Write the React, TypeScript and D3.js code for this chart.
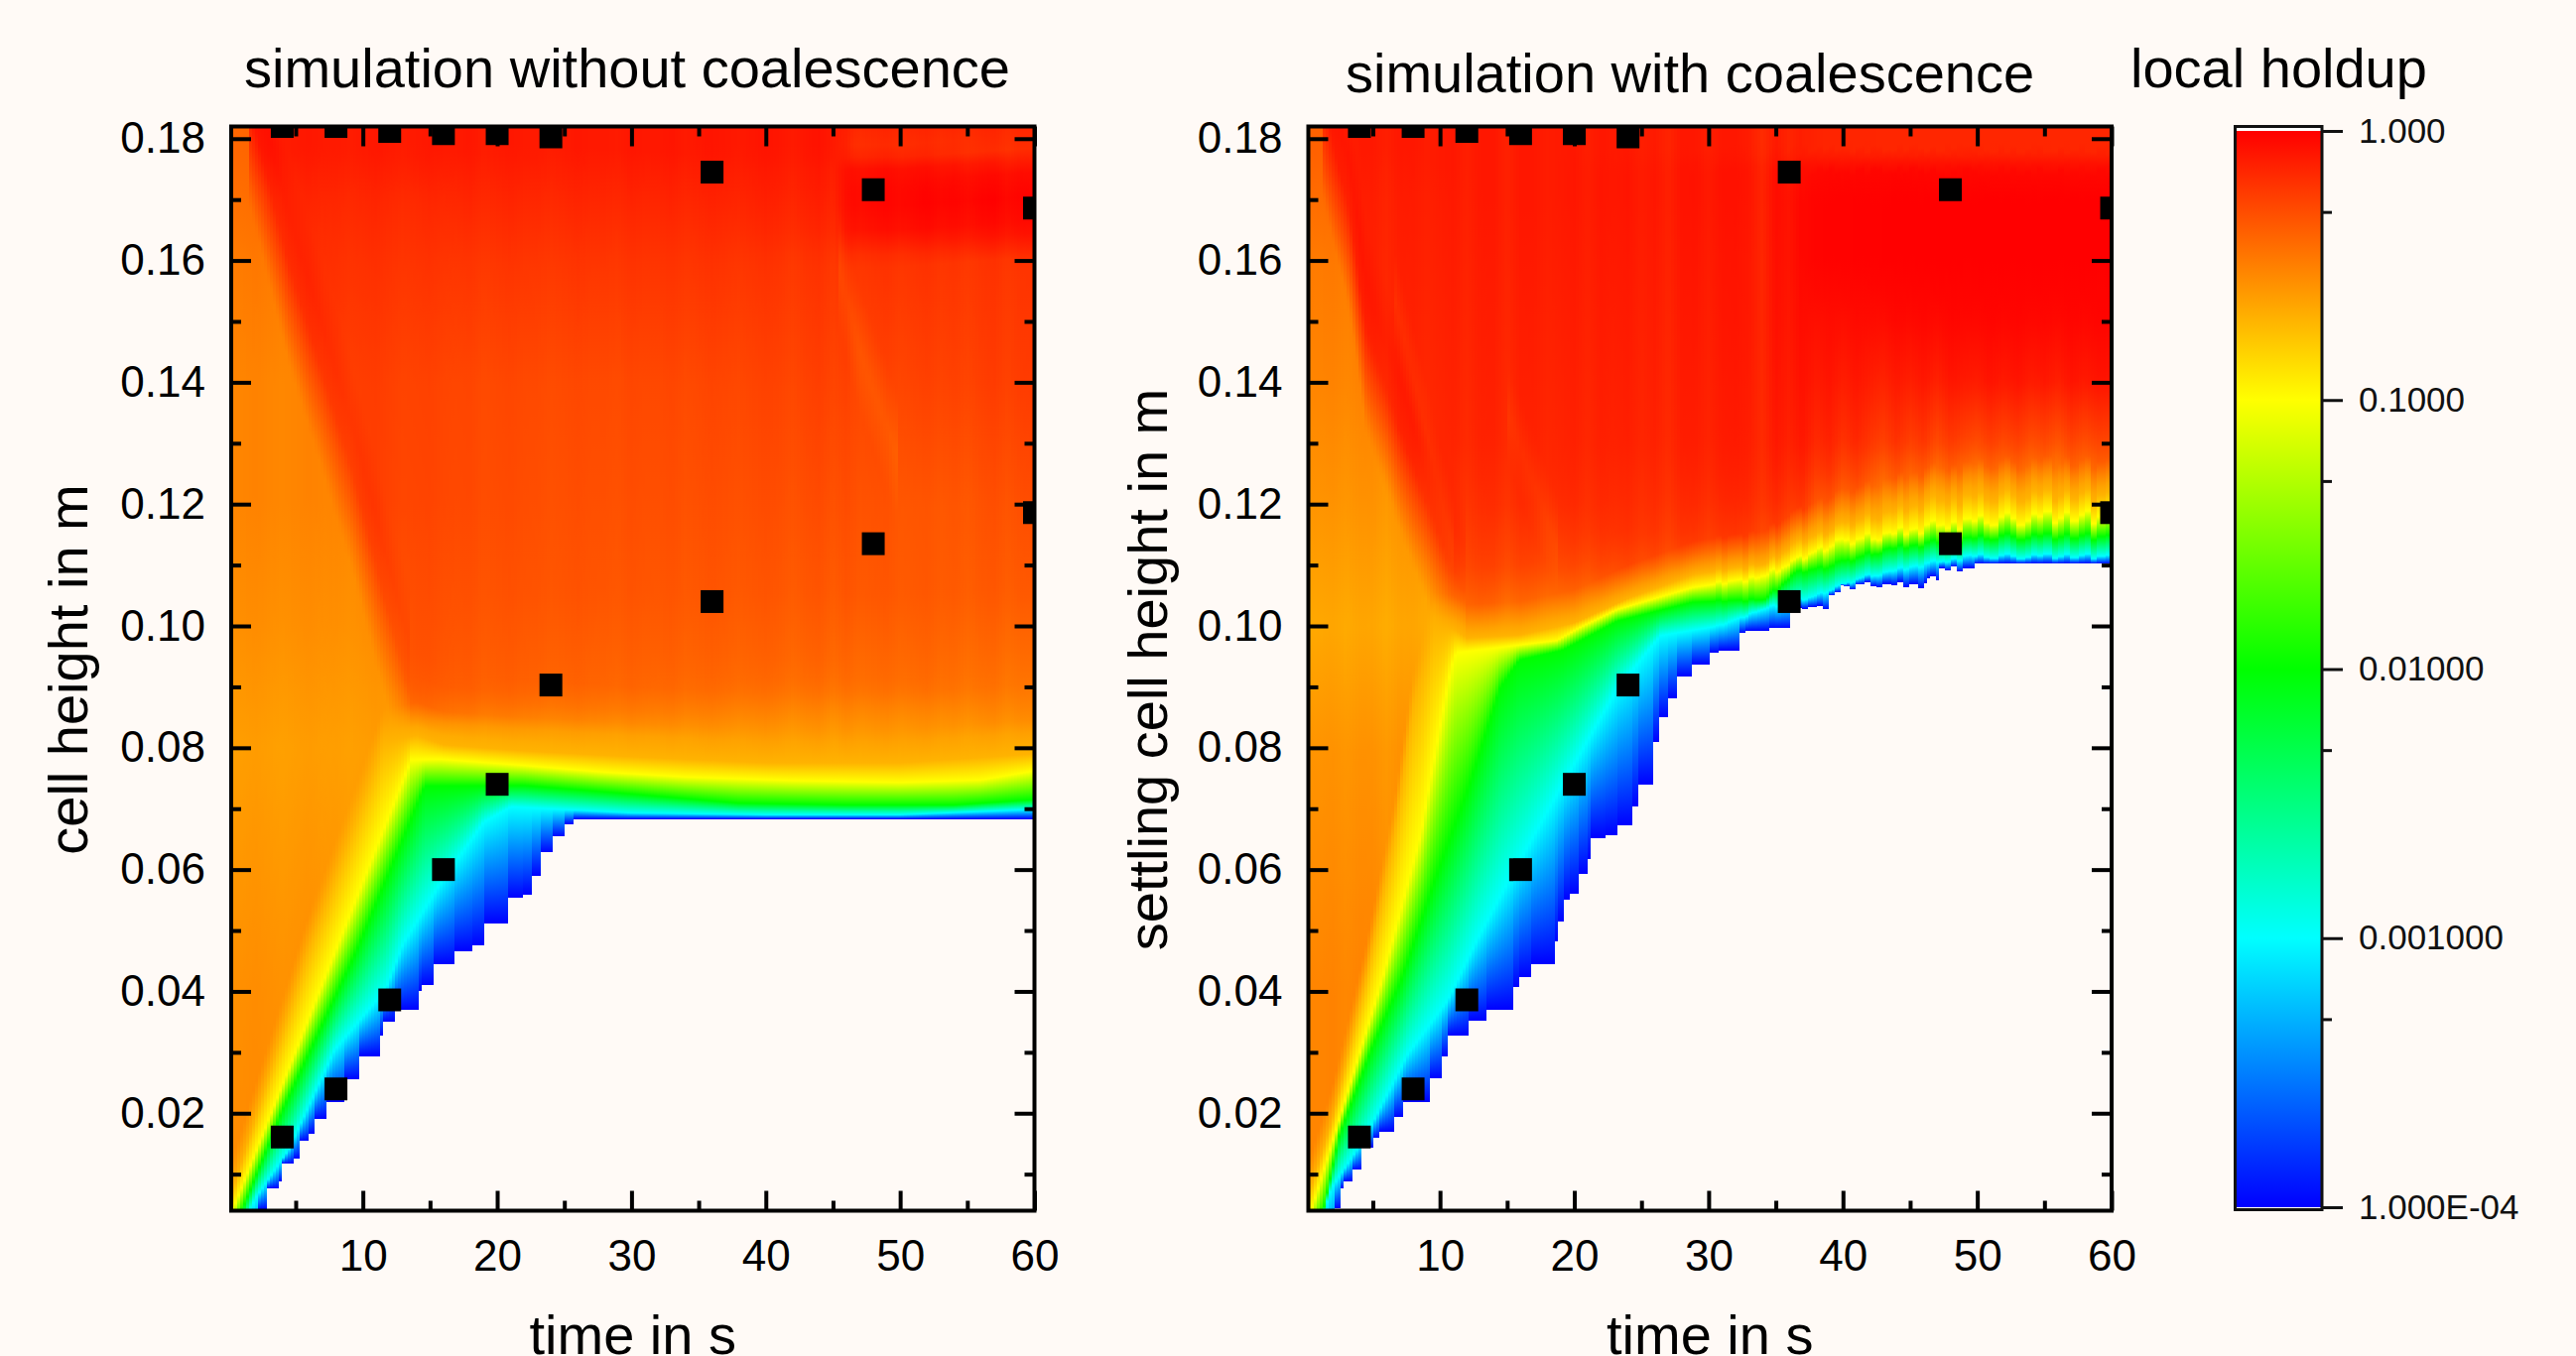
import React, { useEffect, useRef } from "react";
import * as d3 from "d3";

// colour bar
const holdupTicks = [1, 0.1, 0.01, 0.001, 0.0001];
const holdupTickLabels = ["1.000", "0.1000", "0.01000", "0.001000", "1.000E-04"];
const holdupMinor = [0.5, 0.05, 0.005, 0.0005];
const rainbowLevels = [-4, -3, -2, -1, 0];
const rainbowColors = ["#0000ff", "#00ffff", "#00ff00", "#ffff00", "#ff0000"];

// axes
const timeTicks = [10, 20, 30, 40, 50, 60];
const timeMinor = [5, 15, 25, 35, 45, 55];
const heightTicks = [0.02, 0.04, 0.06, 0.08, 0.1, 0.12, 0.14, 0.16, 0.18];
const heightMinor = [0.01, 0.03, 0.05, 0.07, 0.09, 0.11, 0.13, 0.15, 0.17];

// measured interface positions (black squares, same in both panels)
const expTimes = [4, 8, 12, 16, 20, 24, 36, 48, 60];
const expLower = [0.0161, 0.024, 0.0386, 0.06, 0.074, 0.0903, 0.104, 0.1135, 0.1186];
const expUpper = [0.182, 0.182, 0.1812, 0.1808, 0.1808, 0.1803, 0.1745, 0.1716, 0.1686];

// --- simulation without coalescence: lower edge of the coloured area (staircase)
const noCoalEdgeT = [2.3, 2.75, 3.85, 4.05, 4.78, 5.26, 5.87, 6.4, 7.2, 8.7, 9.7, 11.25, 11.54, 12.35, 14.17, 14.37, 15.18, 15.38, 16.88, 18.2, 19.1, 20.77, 21.94, 22.6, 23.16, 24.1, 25.1, 25.7];
const noCoalEdgeH = [-0.005, 0.0042, 0.0076, 0.0088, 0.0117, 0.0126, 0.0154, 0.0166, 0.0191, 0.0218, 0.0255, 0.0294, 0.0328, 0.035, 0.0369, 0.04, 0.041, 0.042, 0.0444, 0.0466, 0.0475, 0.0512, 0.0553, 0.0559, 0.059, 0.0628, 0.0654, 0.0675, 0.0683];
// heights where the holdup reaches 1e-3, 1e-2, 1e-1 and 0.2
const noCoalCyanT = [0.2, 1.6, 2, 4.5, 7.9, 11.7, 13, 15.8, 19, 21, 30, 40, 50, 60];
const noCoalCyanH = [-0.004, 0.004, 0.006, 0.0141, 0.0304, 0.0403, 0.0478, 0.0578, 0.0678, 0.0703, 0.0693, 0.069, 0.069, 0.0699];
const noCoalGreenT = [0.2, 1, 4, 9.5, 14.6, 22, 30, 38, 46, 54, 60];
const noCoalGreenH = [-0.0001, 0.004, 0.0204, 0.0465, 0.0737, 0.0738, 0.0724, 0.0709, 0.0706, 0.0706, 0.0715];
const noCoalYellowT = [0.2, 0.3, 13.6, 15.8, 21.9, 27.9, 34, 42, 50, 56, 60];
const noCoalYellowH = [0.0034, 0.004, 0.078, 0.0781, 0.0771, 0.076, 0.0752, 0.0746, 0.0743, 0.0747, 0.0762];
const noCoalAmberT = [0.2, 5.7, 11.5, 14, 16, 22, 30, 40, 50, 60];
const noCoalAmberH = [0.0065, 0.0453, 0.0809, 0.082, 0.0805, 0.0795, 0.0785, 0.0775, 0.0775, 0.079];
// orange region of initial holdup: its upper limit and its log10 holdup
const noCoalFeedT = [1.5, 4.45, 6.9, 9.3, 11.3, 13.6];
const noCoalFeedTop = [0.178, 0.1516, 0.134, 0.1166, 0.0991, 0.08];
const noCoalFeedH = [0.004, 0.04, 0.08, 0.1, 0.12, 0.14, 0.16, 0.178];
const noCoalFeedV = [-0.54, -0.56, -0.62, -0.56, -0.52, -0.52, -0.48, -0.4];
// dense packed layer, log10 holdup: one row per height, one value per time
const noCoalBodyT = [2, 6, 10, 14, 18, 25, 35, 45, 46.5, 52, 60];
const noCoalBodyH = [0.082, 0.086, 0.09, 0.095, 0.105, 0.12, 0.14, 0.16, 0.165, 0.17, 0.175, 0.178, 0.182];
const noCoalBody = [
  [-0.6, -0.6, -0.6, -0.6, -0.6, -0.6, -0.6, -0.6, -0.6, -0.6, -0.6],
  [-0.5, -0.5, -0.5, -0.42, -0.45, -0.47, -0.49, -0.52, -0.52, -0.52, -0.52],
  [-0.4, -0.4, -0.4, -0.35, -0.37, -0.39, -0.41, -0.43, -0.43, -0.43, -0.46],
  [-0.36, -0.36, -0.36, -0.32, -0.35, -0.37, -0.38, -0.39, -0.4, -0.4, -0.42],
  [-0.32, -0.32, -0.3, -0.3, -0.32, -0.33, -0.34, -0.34, -0.34, -0.35, -0.35],
  [-0.26, -0.26, -0.25, -0.27, -0.29, -0.31, -0.31, -0.3, -0.31, -0.34, -0.3],
  [-0.2, -0.22, -0.24, -0.26, -0.28, -0.29, -0.28, -0.25, -0.27, -0.26, -0.23],
  [-0.17, -0.18, -0.19, -0.2, -0.21, -0.21, -0.2, -0.2, -0.2, -0.2, -0.2],
  [-0.16, -0.17, -0.17, -0.18, -0.18, -0.18, -0.17, -0.15, -0.07, -0.05, -0.05],
  [-0.15, -0.15, -0.15, -0.16, -0.15, -0.15, -0.14, -0.12, -0.03, -0.01, -0.01],
  [-0.12, -0.12, -0.12, -0.12, -0.12, -0.12, -0.11, -0.1, -0.06, -0.05, -0.05],
  [-0.1, -0.1, -0.1, -0.1, -0.1, -0.1, -0.09, -0.08, -0.18, -0.18, -0.18],
  [-0.1, -0.1, -0.1, -0.1, -0.1, -0.1, -0.09, -0.08, -0.15, -0.15, -0.15],
];
// faint orange wave crossing the layer late in the run
const noCoalWaveT = [45.3, 47, 49.8];
const noCoalWaveH = [0.16, 0.145, 0.128];
// vertical streaks, change of log10 holdup, one value per second from 0 s
const noCoalStreak = [0, 0, 0.01, 0, -0.01, 0, 0.01, 0, 0, -0.01, 0, 0.01, 0, -0.01, 0, 0.01, 0, 0, 0.01, -0.01, 0, 0.01, 0, 0, -0.01, 0, 0.01, 0, 0, -0.01, 0.01, 0, 0, 0.01, -0.01, 0, 0.01, 0, -0.01, 0, 0.01, 0, -0.02, 0, 0.01, -0.02, 0.01, -0.01, 0, 0.01, -0.01, 0, 0.01, -0.01, 0, -0.02, 0, 0.01, -0.02, 0, 0];

// --- simulation with coalescence
const coalEdgeT = [2.2, 2.51, 2.91, 3.4, 4.05, 4.2, 4.94, 5.54, 6.56, 7.16, 9.19, 10.2, 10.6, 12.2, 13.44, 15.54, 15.87, 16.68, 18.58, 18.7, 19.2, 19.7, 20.3, 20.9, 21.3, 22.35, 23.24, 24.37, 24.8, 25.8, 26.4, 27, 27.7, 28.8, 30, 30.85, 32.26, 32.67, 34.5, 36.1, 38.95, 39.75, 41, 46.2, 47.2, 49.9, 51.5];
const coalEdgeH = [-0.005, 0.0044, 0.0076, 0.0088, 0.0107, 0.0123, 0.0143, 0.0159, 0.017, 0.0194, 0.0219, 0.0257, 0.0293, 0.0328, 0.0352, 0.037, 0.0407, 0.0423, 0.0445, 0.0482, 0.0514, 0.055, 0.0561, 0.0593, 0.0617, 0.0652, 0.0656, 0.0672, 0.0704, 0.0739, 0.081, 0.085, 0.0881, 0.0917, 0.0937, 0.0956, 0.096, 0.0988, 0.0992, 0.0996, 0.103, 0.1051, 0.1063, 0.1067, 0.1075, 0.1095, 0.1102, 0.1102];
const coalCyanT = [0.2, 1.4, 1.9, 4.5, 7.6, 10.6, 12.8, 15.1, 19.1, 23.2, 26.4, 30.8, 34.5, 37.7, 41.4, 45.4, 49.5, 60];
const coalCyanH = [-0.004, 0.004, 0.0076, 0.0163, 0.0297, 0.0386, 0.0486, 0.0581, 0.0739, 0.0897, 0.0984, 0.1, 0.1031, 0.1047, 0.1079, 0.1098, 0.1114, 0.1114];
const coalGreenT = [0.2, 1.3, 2.5, 4.9, 7.2, 9.6, 12.2, 14.45, 15.9, 19.1, 23.2, 28.8, 34.1, 36.5, 38.5, 43.4, 47.4, 51.5, 60];
const coalGreenH = [-0.002, 0.0038, 0.0163, 0.0305, 0.0423, 0.0581, 0.0739, 0.0897, 0.0944, 0.096, 0.1008, 0.1039, 0.1043, 0.1087, 0.1095, 0.1126, 0.1138, 0.1146, 0.1146];
const coalYellowT = [0.2, 0.4, 2.9, 5.75, 8.6, 9.2, 10.8, 11.2, 18.7, 20.3, 23.2, 28.8, 33.7, 36.5, 39.3, 43.4, 47.4, 51.5, 55.5, 60];
const coalYellowH = [0.0028, 0.0038, 0.0218, 0.0423, 0.066, 0.0739, 0.0929, 0.0956, 0.0976, 0.0996, 0.1027, 0.1063, 0.1079, 0.1107, 0.1134, 0.115, 0.1166, 0.1174, 0.1177, 0.1178];
const coalAmberT = [0.2, 2, 4.5, 6.6, 8, 9.5, 11, 12, 16, 20, 24, 29, 34, 36.5, 40, 47, 52, 60];
const coalAmberH = [0.0065, 0.019, 0.0423, 0.066, 0.087, 0.1, 0.0995, 0.098, 0.0985, 0.1005, 0.1045, 0.1085, 0.11, 0.1134, 0.1165, 0.1205, 0.1213, 0.1213];
const coalFeedT = [1.3, 3.3, 4.5, 7, 9.4, 10.8, 11.8];
const coalFeedTop = [0.1783, 0.1593, 0.1403, 0.124, 0.1095, 0.1016, 0.0976];
const coalFeedH = [0.004, 0.04, 0.08, 0.1, 0.12, 0.14, 0.16, 0.178];
const coalFeedV = [-0.52, -0.52, -0.58, -0.66, -0.58, -0.52, -0.48, -0.38];
const coalBodyT = [2, 6, 10, 14, 18, 24, 30, 34, 37, 38.5, 44, 50, 60];
const coalBodyH = [0.1, 0.105, 0.11, 0.115, 0.12, 0.125, 0.13, 0.14, 0.15, 0.16, 0.17, 0.175, 0.178, 0.182];
const coalBody = [
  [-0.4, -0.4, -0.42, -0.48, -0.52, -0.5, -0.5, -0.5, -0.5, -0.5, -0.5, -0.5, -0.5],
  [-0.3, -0.3, -0.32, -0.36, -0.4, -0.42, -0.45, -0.45, -0.5, -0.5, -0.5, -0.5, -0.5],
  [-0.28, -0.28, -0.25, -0.26, -0.28, -0.28, -0.32, -0.34, -0.45, -0.5, -0.55, -0.55, -0.55],
  [-0.22, -0.22, -0.22, -0.22, -0.22, -0.2, -0.22, -0.22, -0.35, -0.45, -0.55, -0.6, -0.6],
  [-0.2, -0.2, -0.2, -0.18, -0.17, -0.17, -0.17, -0.15, -0.22, -0.33, -0.48, -0.58, -0.58],
  [-0.2, -0.18, -0.17, -0.16, -0.15, -0.15, -0.14, -0.12, -0.15, -0.2, -0.33, -0.42, -0.42],
  [-0.18, -0.16, -0.15, -0.14, -0.14, -0.13, -0.12, -0.1, -0.1, -0.13, -0.2, -0.25, -0.28],
  [-0.16, -0.15, -0.14, -0.13, -0.13, -0.12, -0.11, -0.09, -0.07, -0.08, -0.1, -0.08, -0.08],
  [-0.15, -0.14, -0.13, -0.12, -0.12, -0.11, -0.1, -0.08, -0.05, -0.05, -0.03, -0.02, -0.02],
  [-0.14, -0.13, -0.12, -0.11, -0.11, -0.1, -0.09, -0.08, -0.03, -0.01, 0, 0, 0],
  [-0.13, -0.12, -0.11, -0.1, -0.1, -0.09, -0.08, -0.07, -0.03, -0.01, 0, 0, 0],
  [-0.12, -0.11, -0.1, -0.1, -0.1, -0.09, -0.08, -0.07, -0.05, -0.03, -0.02, -0.03, -0.03],
  [-0.12, -0.1, -0.1, -0.1, -0.1, -0.1, -0.1, -0.1, -0.12, -0.14, -0.15, -0.15, -0.15],
  [-0.12, -0.1, -0.1, -0.1, -0.1, -0.1, -0.1, -0.1, -0.12, -0.14, -0.15, -0.15, -0.15],
];
// curved orange streaks in the dense layer
const coalWave1T = [6.6, 11];
const coalWave1H = [0.1539, 0.1131];
const coalWave2T = [15, 18.7];
const coalWave2H = [0.135, 0.1131];
const coalStreak = [0, 0, 0.01, -0.01, 0.01, 0.01, -0.02, 0.01, 0.01, -0.01, 0, 0.01, -0.02, 0.01, 0.01, -0.03, 0.01, 0.01, -0.01, 0, 0.01, -0.02, 0.01, 0, 0.01, -0.02, 0, -0.04, 0.01, 0.01, -0.02, 0.01, 0.01, -0.01, -0.07, 0.01, -0.03, 0.01, -0.05, 0.01, -0.06, 0.01, -0.04, -0.08, 0.01, -0.05, 0.01, -0.08, 0.01, -0.03, -0.06, 0.01, -0.04, 0.01, -0.06, -0.02, -0.08, 0.01, -0.04, 0.01, 0];
// jagged interface after 30 s, shift of the height in m, half-second steps
const coalTuft = [0, 0.0002, -0.0001, 0.0001, 0.0001, -0.0002, 0.0002, 0, -0.0001, 0.0002, -0.0003, -0.0001, 0.0002, 0.0003, -0.0002, 0.0001, 0.0003, -0.0003, -0.0001, 0.0004, 0.0002, -0.0003, 0.0001, 0.0005, -0.0002, -0.0004, 0.0002, 0, 0.0005, -0.0003, 0.0001, -0.0005, 0.0003, 0.0006, 0, -0.0004, 0.0002, -0.0006, 0.0004, 0.0001, 0.0006, -0.0002, -0.0005, 0.0003, 0.0007, 0.0001, -0.0006, -0.0002, 0.0005, 0.0002, 0.0007, -0.0005, 0, 0.0006, -0.0003, 0.0003, 0.0007, -0.0006, 0.0001, 0.0004];

const BG = "#fffaf6";
const FONT = "'Liberation Sans', Arial, sans-serif";

const lerpScale = (ts: number[], hs: number[]) =>
  d3.scaleLinear().domain(ts).range(hs).clamp(true);

type Wave = { t: number[]; h: number[]; dv: number; w: number };

type PanelData = {
  id: string;
  left: number;
  edgeT: number[]; edgeH: number[];
  cyanT: number[]; cyanH: number[];
  greenT: number[]; greenH: number[];
  yellowT: number[]; yellowH: number[];
  amberT: number[]; amberH: number[];
  feedT: number[]; feedTop: number[];
  feedH: number[]; feedV: number[];
  bodyT: number[]; bodyH: number[]; body: number[][];
  streak: number[];
  tuft?: number[];
  waves: Wave[];
  title: string; titleX: number; titleY: number;
  yLabel: string; yLabelX: number; yLabelY: number;
};

const panels: PanelData[] = [
  {
    id: "nocoal", left: 233,
    edgeT: noCoalEdgeT, edgeH: noCoalEdgeH,
    cyanT: noCoalCyanT, cyanH: noCoalCyanH,
    greenT: noCoalGreenT, greenH: noCoalGreenH,
    yellowT: noCoalYellowT, yellowH: noCoalYellowH,
    amberT: noCoalAmberT, amberH: noCoalAmberH,
    feedT: noCoalFeedT, feedTop: noCoalFeedTop,
    feedH: noCoalFeedH, feedV: noCoalFeedV,
    bodyT: noCoalBodyT, bodyH: noCoalBodyH, body: noCoalBody,
    streak: noCoalStreak,
    waves: [{ t: noCoalWaveT, h: noCoalWaveH, dv: -0.07, w: 0.01 }],
    title: "simulation without coalescence", titleX: 632, titleY: 88,
    yLabel: "cell height in m", yLabelX: 88, yLabelY: 675,
  },
  {
    id: "coal", left: 1318.5,
    edgeT: coalEdgeT, edgeH: coalEdgeH,
    cyanT: coalCyanT, cyanH: coalCyanH,
    greenT: coalGreenT, greenH: coalGreenH,
    yellowT: coalYellowT, yellowH: coalYellowH,
    amberT: coalAmberT, amberH: coalAmberH,
    feedT: coalFeedT, feedTop: coalFeedTop,
    feedH: coalFeedH, feedV: coalFeedV,
    bodyT: coalBodyT, bodyH: coalBodyH, body: coalBody,
    streak: coalStreak,
    tuft: coalTuft,
    waves: [
      { t: coalWave1T, h: coalWave1H, dv: -0.05, w: 0.008 },
      { t: coalWave2T, h: coalWave2H, dv: -0.05, w: 0.008 },
    ],
    title: "simulation with coalescence", titleX: 1703, titleY: 93,
    yLabel: "settling cell height in m", yLabelX: 1176, yLabelY: 675,
  },
];

const rainbow = d3.scaleLinear<string>().domain(rainbowLevels).range(rainbowColors).clamp(true);

// one column of the map: gradient stops (height, log10 holdup) from bottom to top
function columnProfile(p: PanelData, t: number) {
  const edge = d3.scaleThreshold<number, number>().domain(p.edgeT).range(p.edgeH);
  const cyan = lerpScale(p.cyanT, p.cyanH);
  const green = lerpScale(p.greenT, p.greenH);
  const yellow = lerpScale(p.yellowT, p.yellowH);
  const amber = lerpScale(p.amberT, p.amberH);
  const feedTop = lerpScale(p.feedT, p.feedTop);
  const feed = lerpScale(p.feedH, p.feedV);
  const rows = p.body.map((r) => lerpScale(p.bodyT, r)(t));
  const body = lerpScale(p.bodyH, rows);
  const streakAt = lerpScale(d3.range(p.streak.length), p.streak)(t);
  const tuft = p.tuft && t > 30
    ? d3.scaleQuantize<number>().domain([30, 60]).range(p.tuft)(t)
    : 0;
  const hb = t < p.feedT[0] ? Infinity : t > p.feedT[p.feedT.length - 1] ? -Infinity : feedTop(t);
  const waves = p.waves
    .filter((w) => t >= w.t[0] && t <= w.t[w.t.length - 1])
    .map((w) => ({ at: lerpScale(w.t, w.h)(t), dv: w.dv, w: w.w }));
  const fade = d3.scaleLinear().domain([0.125, 0.155]).range([1, 0]).clamp(true);

  const e = edge(t) + (t > 37 && t < 49 ? tuft : 0);
  const stops: [number, number][] = [[e, -4]];
  const push = (h: number, v: number) => {
    if (h > stops[stops.length - 1][0]) stops.push([h, v]);
  };
  push(cyan(t) + tuft * 0.6, -3);
  push(green(t) + tuft * 0.8, -2);
  push(yellow(t) + tuft * 1.6, -1);
  const a = amber(t) + tuft * 1.6;
  push(a, -0.7);

  const value = (h: number) => {
    const d = 0.008;
    const mix = Math.max(0, Math.min(1, (h - hb + d) / (2 * d)));
    let b = body(h);
    if (isFinite(hb)) b += 0.04 * Math.max(0, 1 - Math.abs(h - hb - 0.016) / 0.01);
    waves.forEach((w) => {
      b += w.dv * Math.max(0, 1 - Math.abs(h - w.at) / w.w);
    });
    const base = Number.isFinite(hb) ? feed(h) * (1 - mix) + b * mix : hb === Infinity ? feed(h) : b;
    const s = t > 37 && p.id === "coal" ? streakAt * fade(h) : streakAt;
    return Math.min(0, base + s);
  };
  for (let h = a + 0.0015; h < 0.1825; h += 0.002) {
    const w = Math.min(1, (h - a) / 0.005);
    push(h, -0.7 * (1 - w) + value(h) * w);
  }
  push(0.182, value(0.182));
  return stops;
}

function drawPanel(svg: any, defs: any, p: PanelData) {
  const x = d3.scaleLinear().domain([0.2, 60]).range([p.left, p.left + 809.5]);
  const y = d3.scaleLinear().domain([0.004, 0.182]).range([1220.5, 127.5]);
  const g = svg.append("g");

  defs.append("clipPath").attr("id", `clip-${p.id}`)
    .append("rect").attr("x", x(0.2)).attr("y", y(0.182))
    .attr("width", x(60) - x(0.2)).attr("height", y(0.004) - y(0.182));

  const map = g.append("g").attr("clip-path", `url(#clip-${p.id})`);
  const colW = 3;
  const columns = d3.range(Math.floor(x(0.2)), Math.ceil(x(60)), colW);
  columns.forEach((px, i) => {
    const t = x.invert(px + colW / 2);
    const stops = columnProfile(p, t);
    const h0 = stops[0][0];
    const y0 = y(h0);
    const y1 = y(0.182);
    const grad = defs.append("linearGradient")
      .attr("id", `col-${p.id}-${i}`)
      .attr("gradientUnits", "userSpaceOnUse")
      .attr("x1", 0).attr("x2", 0).attr("y1", y0).attr("y2", y1);
    stops.forEach(([h, v]) => {
      grad.append("stop")
        .attr("offset", (y(h) - y0) / (y1 - y0))
        .attr("stop-color", rainbow(v));
    });
    map.append("rect")
      .attr("x", px).attr("y", y1).attr("width", colW).attr("height", y0 - y1)
      .attr("shape-rendering", "crispEdges")
      .attr("fill", `url(#col-${p.id}-${i})`);
  });

  // experiment squares
  const square = d3.symbol().type(d3.symbolSquare).size(23 * 23)();
  [expLower, expUpper].forEach((series) => {
    map.selectAll(null).data(expTimes).enter().append("path")
      .attr("d", square)
      .attr("fill", "#000")
      .attr("transform", (d: number, i: number) => `translate(${x(d)},${y(series[i])})`);
  });

  // ticks on all four sides, pointing inward
  const styleAxis = (sel: any, size: number) => {
    sel.select(".domain").remove();
    sel.selectAll("line").attr("stroke", "#000").attr("stroke-width", 4);
    sel.selectAll("text").attr("font-family", FONT).attr("font-size", size).attr("fill", "#000");
  };
  const bottom = y(0.004);
  const top = y(0.182);
  const right = x(60);
  const left = x(0.2);
  styleAxis(g.append("g").attr("transform", `translate(0,${bottom})`)
    .call(d3.axisBottom(x).tickValues(timeTicks).tickSizeInner(-20).tickSizeOuter(0).tickPadding(29).tickFormat(d3.format("d") as any)), 44);
  styleAxis(g.append("g").attr("transform", `translate(0,${bottom})`)
    .call(d3.axisBottom(x).tickValues(timeMinor).tickSizeInner(-10).tickSizeOuter(0).tickFormat(() => "")), 44);
  styleAxis(g.append("g").attr("transform", `translate(0,${top})`)
    .call(d3.axisTop(x).tickValues(timeTicks).tickSizeInner(-20).tickSizeOuter(0).tickFormat(() => "")), 44);
  styleAxis(g.append("g").attr("transform", `translate(0,${top})`)
    .call(d3.axisTop(x).tickValues(timeMinor).tickSizeInner(-10).tickSizeOuter(0).tickFormat(() => "")), 44);
  styleAxis(g.append("g").attr("transform", `translate(${left},0)`)
    .call(d3.axisLeft(y).tickValues(heightTicks).tickSizeInner(-20).tickSizeOuter(0).tickPadding(26).tickFormat(d3.format(".2f") as any)), 44);
  styleAxis(g.append("g").attr("transform", `translate(${left},0)`)
    .call(d3.axisLeft(y).tickValues(heightMinor).tickSizeInner(-10).tickSizeOuter(0).tickFormat(() => "")), 44);
  styleAxis(g.append("g").attr("transform", `translate(${right},0)`)
    .call(d3.axisRight(y).tickValues(heightTicks).tickSizeInner(-20).tickSizeOuter(0).tickFormat(() => "")), 44);
  styleAxis(g.append("g").attr("transform", `translate(${right},0)`)
    .call(d3.axisRight(y).tickValues(heightMinor).tickSizeInner(-10).tickSizeOuter(0).tickFormat(() => "")), 44);

  g.append("rect")
    .attr("x", left).attr("y", top).attr("width", right - left).attr("height", bottom - top)
    .attr("fill", "none").attr("stroke", "#000").attr("stroke-width", 4);

  const label = (txt: string, tx: number, ty: number, size: number, rotate = false) =>
    g.append("text")
      .attr("transform", `translate(${tx},${ty})${rotate ? " rotate(-90)" : ""}`)
      .attr("text-anchor", "middle")
      .attr("font-family", FONT).attr("font-size", size).attr("fill", "#000")
      .text(txt);
  label(p.title, p.titleX, p.titleY, 56);
  label(p.yLabel, p.yLabelX, p.yLabelY, 56, true);
  // the reference sets this label right on the bottom edge of the page
  label("time in s", (left + right) / 2, 1365, 56);
}

function drawColorBar(svg: any, defs: any) {
  const c = d3.scaleLog().domain([1e-4, 1]).range([1217, 132]);
  const barL = 2252.5;
  const barR = 2340;
  const grad = defs.append("linearGradient").attr("id", "holdup-grad")
    .attr("x1", 0).attr("x2", 0).attr("y1", 1).attr("y2", 0);
  rainbowLevels.forEach((lv, i) => {
    grad.append("stop").attr("offset", i / (rainbowLevels.length - 1)).attr("stop-color", rainbowColors[i]);
  });
  const g = svg.append("g");
  g.append("rect").attr("x", barL).attr("y", 127.5).attr("width", barR - barL).attr("height", 1092)
    .attr("fill", "#fff");
  g.append("rect").attr("x", barL).attr("y", c(1)).attr("width", barR - barL).attr("height", c(1e-4) - c(1))
    .attr("fill", "url(#holdup-grad)");
  g.append("rect").attr("x", barL).attr("y", 127.5).attr("width", barR - barL).attr("height", 1092)
    .attr("fill", "none").attr("stroke", "#111").attr("stroke-width", 3);

  const major = g.append("g").attr("transform", `translate(${barR},0)`)
    .call(d3.axisRight(c).tickValues(holdupTicks).tickSizeInner(21).tickSizeOuter(0).tickPadding(16)
      .tickFormat((_: any, i: number) => holdupTickLabels[i]));
  const minor = g.append("g").attr("transform", `translate(${barR},0)`)
    .call(d3.axisRight(c).tickValues(holdupMinor).tickSizeInner(10).tickSizeOuter(0).tickFormat(() => ""));
  [major, minor].forEach((sel) => {
    sel.select(".domain").remove();
    sel.selectAll("line").attr("stroke", "#111").attr("stroke-width", 3);
    sel.selectAll("text").attr("font-family", FONT).attr("font-size", 35).attr("fill", "#111");
  });
  g.append("text").attr("x", 2147).attr("y", 88)
    .attr("font-family", FONT).attr("font-size", 56).attr("fill", "#000")
    .text("local holdup");
}

export default function App() {
  const svgRef = useRef<SVGSVGElement | null>(null);

  useEffect(() => {
    document.body.style.margin = "0";
    document.body.style.background = BG;
    const svg = d3.select(svgRef.current);
    svg.selectAll("*").remove();
    svg.append("rect").attr("width", 2596).attr("height", 1367).attr("fill", BG);
    const defs = svg.append("defs");
    panels.forEach((p) => drawPanel(svg, defs, p));
    drawColorBar(svg, defs);
  }, []);

  return <svg ref={svgRef} width={2596} height={1367} style={{ display: "block" }} />;
}
